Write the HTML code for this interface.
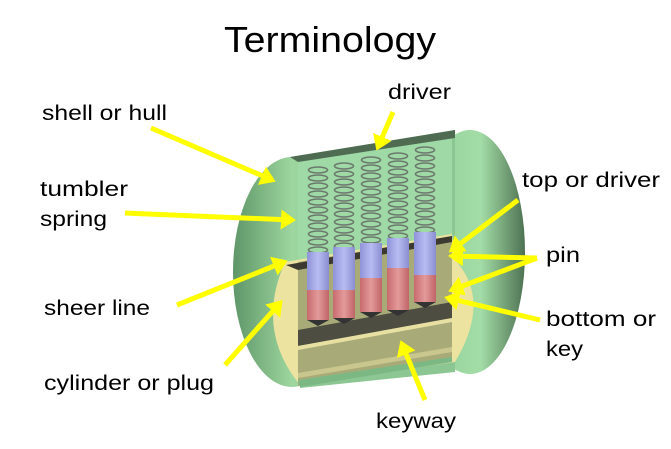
<!DOCTYPE html>
<html><head><style>html,body{margin:0;padding:0;background:#fff}svg{display:block}</style></head>
<body>
<svg width="671" height="449" viewBox="0 0 671 449" xmlns="http://www.w3.org/2000/svg" font-family="Liberation Sans, sans-serif">
<defs>
<linearGradient id="g1" x1="0" y1="0" x2="1" y2="0"><stop offset="0" stop-color="#5f9668"/><stop offset="0.5" stop-color="#9ed69f"/><stop offset="1" stop-color="#8cc693"/></linearGradient>
<linearGradient id="g2" x1="0" y1="0" x2="1" y2="0"><stop offset="0" stop-color="#8fcf98"/><stop offset="0.6" stop-color="#a3dca6"/><stop offset="1" stop-color="#4d7252"/></linearGradient>
<linearGradient id="bl" x1="0" x2="1"><stop offset="0" stop-color="#8f93d8"/><stop offset="0.5" stop-color="#b8bcf2"/><stop offset="1" stop-color="#8a8ed0"/></linearGradient>
<linearGradient id="rd" x1="0" x2="1"><stop offset="0" stop-color="#c86a6e"/><stop offset="0.5" stop-color="#e39a9a"/><stop offset="1" stop-color="#c06468"/></linearGradient>
<marker id="ah" markerWidth="4" markerHeight="4" refX="2.2" refY="2" orient="auto" markerUnits="strokeWidth"><path d="M0,0 L3,2 L0,4 Z" fill="#ffff00"/></marker>
<g id="coil" fill="none" stroke="#6c7a6e" stroke-width="1.6">
<ellipse cx="11" cy="0" rx="9.5" ry="3"/><ellipse cx="11" cy="8" rx="9.5" ry="3"/><ellipse cx="11" cy="16" rx="9.5" ry="3"/><ellipse cx="11" cy="24" rx="9.5" ry="3"/><ellipse cx="11" cy="32" rx="9.5" ry="3"/><ellipse cx="11" cy="40" rx="9.5" ry="3"/><ellipse cx="11" cy="48" rx="9.5" ry="3"/><ellipse cx="11" cy="56" rx="9.5" ry="3"/><ellipse cx="11" cy="64" rx="9.5" ry="3"/><ellipse cx="11" cy="72" rx="9.5" ry="3"/><ellipse cx="11" cy="80" rx="9.5" ry="3"/>
</g>
</defs>
<text x="330" y="52" font-size="36" text-anchor="middle" textLength="212" lengthAdjust="spacingAndGlyphs">Terminology</text>
<!-- right end cap -->
<ellipse cx="470" cy="252" rx="55" ry="122" fill="url(#g2)"/>
<!-- body -->
<path d="M290,157 L455,130 L455,372 L300,388 Z" fill="#8cc693"/>
<ellipse cx="292" cy="272" rx="59" ry="115" fill="url(#g1)"/>
<!-- window -->
<path d="M298,160 L452,138 L452,238 L298,265 Z" fill="#9fd9a6"/>
<path d="M290,157 L455,130 L455,138 L298,162 Z" fill="#4f6b52"/>
<!-- plug -->
<path d="M285,262 L452,234 L455,260 Q492,300 455,362 L300,385 Q255,330 285,262 Z" fill="#ede3a0"/>
<path d="M298,262 L452,236 L452,360 L298,386 Z" fill="#a8ab78"/>
<path d="M286,265 L452,236 L452,242 L298,270 Z" fill="#3c3a30"/>
<path d="M298,330 L452,302 L452,318 L298,346 Z" fill="#4e4d42"/>
<path d="M298,346 L452,318 L452,322 L298,350 Z" fill="#e8e0a2"/>
<path d="M298,373 L452,347 L452,352 L298,378 Z" fill="#c9c68e"/>
<path d="M298,380 L452,357 L452,362 L300,387 Z" fill="#7cb884"/>
<!-- springs -->
<use href="#coil" x="307" y="170"/>
<use href="#coil" x="333" y="166"/>
<use href="#coil" x="360" y="160"/>
<use href="#coil" x="387" y="156"/>
<use href="#coil" x="414" y="150"/>
<!-- pins -->
<rect x="307" y="252" width="22" height="38" fill="url(#bl)"/><rect x="307" y="290" width="22" height="30" fill="url(#rd)"/><path d="M307,320 h22 l-11,6 z" fill="#333"/>
<rect x="333" y="247" width="22" height="43" fill="url(#bl)"/><rect x="333" y="290" width="22" height="28" fill="url(#rd)"/><path d="M333,318 h22 l-11,6 z" fill="#333"/>
<rect x="360" y="243" width="22" height="35" fill="url(#bl)"/><rect x="360" y="278" width="22" height="34" fill="url(#rd)"/><path d="M360,312 h22 l-11,6 z" fill="#333"/>
<rect x="387" y="238" width="22" height="30" fill="url(#bl)"/><rect x="387" y="268" width="22" height="42" fill="url(#rd)"/><path d="M387,310 h22 l-11,6 z" fill="#333"/>
<rect x="414" y="232" width="22" height="43" fill="url(#bl)"/><rect x="414" y="275" width="22" height="27" fill="url(#rd)"/><path d="M414,302 h22 l-11,6 z" fill="#333"/>
<!-- arrows -->
<g stroke="#ffff00" stroke-width="5" fill="none" marker-end="url(#ah)">
<line x1="151" y1="128" x2="272" y2="180"/>
<line x1="393" y1="112" x2="378" y2="147"/>
<line x1="125" y1="213" x2="292" y2="220"/>
<line x1="518" y1="200" x2="452" y2="250"/>
<line x1="537" y1="258" x2="452" y2="256"/>
<line x1="537" y1="258" x2="452" y2="290"/>
<line x1="177" y1="305" x2="284" y2="262"/>
<line x1="540" y1="320" x2="448" y2="298"/>
<line x1="225" y1="365" x2="280" y2="303"/>
<line x1="425" y1="400" x2="402" y2="344"/>
</g>
<g font-size="21" fill="#000">
<text x="42" y="120" textLength="125" lengthAdjust="spacingAndGlyphs">shell or hull</text>
<text x="388" y="99" textLength="63" lengthAdjust="spacingAndGlyphs">driver</text>
<text x="40" y="196" textLength="88" lengthAdjust="spacingAndGlyphs">tumbler</text>
<text x="40" y="226" textLength="67" lengthAdjust="spacingAndGlyphs">spring</text>
<text x="522" y="187" textLength="138" lengthAdjust="spacingAndGlyphs">top or driver</text>
<text x="546" y="262" textLength="34" lengthAdjust="spacingAndGlyphs">pin</text>
<text x="44" y="315" textLength="106" lengthAdjust="spacingAndGlyphs">sheer line</text>
<text x="546" y="326" textLength="110" lengthAdjust="spacingAndGlyphs">bottom or</text>
<text x="546" y="356" textLength="37" lengthAdjust="spacingAndGlyphs">key</text>
<text x="44" y="390" textLength="170" lengthAdjust="spacingAndGlyphs">cylinder or plug</text>
<text x="376" y="428" textLength="80" lengthAdjust="spacingAndGlyphs">keyway</text>
</g>
</svg>
</body></html>
